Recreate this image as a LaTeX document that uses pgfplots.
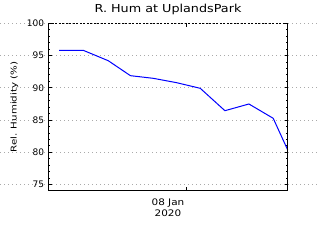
\documentclass[border=0pt]{standalone}
\usepackage{fontspec}
\setmainfont{DejaVu Sans}
\newfontfamily\tfont[FakeStretch=1.16]{DejaVu Sans}
\newfontfamily\lfont[FakeStretch=1.28]{DejaVu Sans}
\usepackage{pgfplots}
\pgfplotsset{compat=1.18}
\definecolor{gridgray}{RGB}{170,170,170}
\begin{document}
\begin{tikzpicture}
\begin{axis}[
  width=239.4pt, height=167.7pt, scale only axis,
  xmin=-17.6, xmax=12.95, ymin=74, ymax=100,
  ytick={75,80,...,100}, minor y tick num=4,
  xtick={0}, xticklabels={},
  tick align=inside,
  major tick length=4pt, minor tick length=2pt,
  every tick/.style={black, line width=0.8pt},
  axis line style={draw=none},
  clip=false,
  /pgf/number format/assume math mode=true,
  yticklabel style={font=\fontsize{9}{10}\selectfont, inner sep=0pt, xshift=-4pt},
  title={\tfont R. Hum at UplandsPark},
  title style={at={(axis description cs:0.5,1)}, anchor=base, yshift=4.3pt, inner sep=0pt, font=\fontsize{11}{13}\selectfont},
  ylabel={\lfont Rel. Humidity (\%)},
  ylabel style={at={(axis description cs:-0.132,0.5)}, anchor=base, inner sep=0pt, font=\fontsize{8}{9.6}\selectfont},
  xlabel={\tfont 08 Jan\\\tfont 2020},
  xlabel style={at={(axis description cs:0.5,0)}, anchor=north, inner sep=0pt, yshift=-7.3pt, align=center, font=\fontsize{9}{11.7}\selectfont},
]
\draw[gridgray, line width=0.8pt, dash pattern=on 0.8pt off 3.2pt] (axis cs:-23.76,75) -- (axis cs:17.07,75);
\draw[gridgray, line width=0.8pt, dash pattern=on 0.8pt off 3.2pt] (axis cs:-23.76,80) -- (axis cs:17.07,80);
\draw[gridgray, line width=0.8pt, dash pattern=on 0.8pt off 3.2pt] (axis cs:-23.76,85) -- (axis cs:17.07,85);
\draw[gridgray, line width=0.8pt, dash pattern=on 0.8pt off 3.2pt] (axis cs:-23.76,90) -- (axis cs:17.07,90);
\draw[gridgray, line width=0.8pt, dash pattern=on 0.8pt off 3.2pt] (axis cs:-23.76,95) -- (axis cs:17.07,95);
\draw[gridgray, line width=0.8pt, dash pattern=on 0.8pt off 3.2pt] (axis cs:-23.76,100) -- (axis cs:17.07,100);
\addplot[blue, line width=1pt] coordinates {
(-16.21,95.81) (-13.14,95.81) (-9.95,94.2) (-7.12,91.88) (-4.21,91.47)
(-1.21,90.79) (1.79,89.92) (4.94,86.45) (8.0,87.49) (11.1,85.27) (12.95,80.36)
};
\coordinate (bl) at (rel axis cs:0,0);
\coordinate (tr) at (rel axis cs:1,1);
\end{axis}
\draw[black, line width=1pt] (bl|-tr) -- (bl) -- (tr|-bl) -- (tr);
\draw[black, line width=1pt, dash pattern=on 2pt off 1.5pt] (bl|-tr) -- (tr);
\pgfresetboundingbox
\path[use as bounding box] ([shift={(-48.3pt,-49pt)}]bl) rectangle ([shift={(32.3pt,23.3pt)}]tr);
\end{tikzpicture}
\end{document}
